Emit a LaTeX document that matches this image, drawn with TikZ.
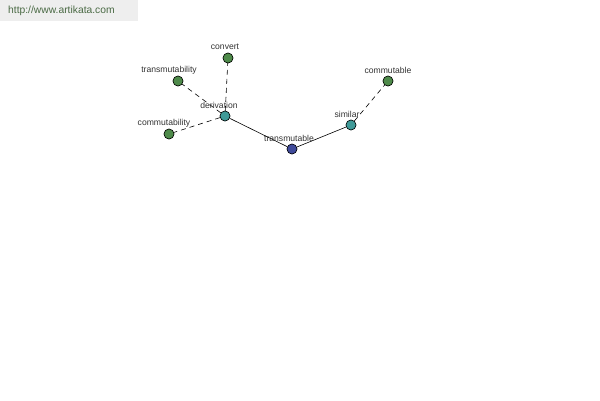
\documentclass[tikz,border=0pt]{standalone}
\usepackage{fontspec}
\setmainfont{Liberation Sans}
\begin{document}
\begin{tikzpicture}[x=1pt,y=-1pt,
  vtx/.style={circle,draw=black,line width=0.5pt,minimum size=10pt,inner sep=0pt},
  lab/.style={font=\fontsize{8.6}{10}\selectfont,text=black!80,inner sep=0pt},
  solidedge/.style={draw=black,line width=0.6pt},
  dashedge/.style={draw=black,line width=0.6pt,dashed,dash pattern=on 5pt off 4pt}]
\definecolor{gnode}{HTML}{4E8A4A}
\definecolor{tnode}{HTML}{3F9A98}
\definecolor{bnode}{HTML}{3F4A9A}
\definecolor{banner}{HTML}{EEEEEE}
\definecolor{bantext}{HTML}{4A6A44}
\useasboundingbox (0,0) rectangle (600,400);
\fill[white] (0,0) rectangle (600,400);
\fill[banner] (0,0) rectangle (138,21);
\node[anchor=west,inner sep=0pt,text=bantext,font=\fontsize{10.3}{12}\selectfont] (url) at (8,11) {http://www.artikata.com};
% nodes
\node[vtx,fill=gnode] (convert) at (228,58) {};
\node[vtx,fill=gnode] (transmutability) at (178,81) {};
\node[vtx,fill=tnode] (derivation) at (225,116) {};
\node[vtx,fill=gnode] (commutability) at (169,134) {};
\node[vtx,fill=bnode] (transmutable) at (292,149) {};
\node[vtx,fill=tnode] (similar) at (351,125) {};
\node[vtx,fill=gnode] (commutable) at (388,81) {};
% edges
\draw[dashedge] (derivation) -- (convert);
\draw[dashedge] (derivation) -- (transmutability);
\draw[dashedge] (derivation) -- (commutability);
\draw[solidedge] (derivation) -- (transmutable);
\draw[solidedge] (transmutable) -- (similar);
\draw[dashedge] (similar) -- (commutable);
% redraw nodes on top
\node[vtx,fill=gnode] at (convert) {};
\node[vtx,fill=gnode] at (transmutability) {};
\node[vtx,fill=tnode] at (derivation) {};
\node[vtx,fill=gnode] at (commutability) {};
\node[vtx,fill=bnode] at (transmutable) {};
\node[vtx,fill=tnode] at (similar) {};
\node[vtx,fill=gnode] at (commutable) {};
% labels
\node[lab] (lconvert) at (225,47) {convert};
\node[lab] (ltransmutability) at (169,70) {transmutability};
\node[lab] (lderivation) at (219,105) {derivation};
\node[lab] (lcommutability) at (164,123) {commutability};
\node[lab] (ltransmutable) at (289,138) {transmutable};
\node[lab] (lsimilar) at (347,114) {similar};
\node[lab] (lcommutable) at (388,70) {commutable};
\end{tikzpicture}
\end{document}
